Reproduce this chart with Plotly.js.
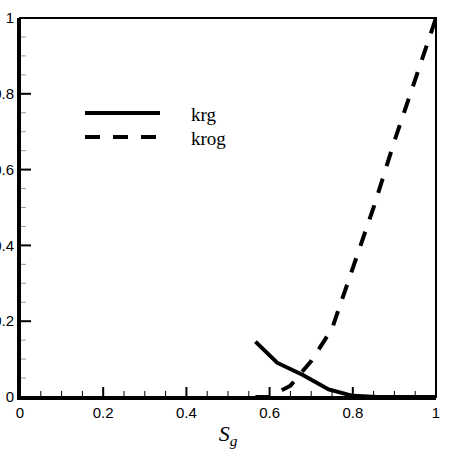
<!DOCTYPE html>
<html>
<head>
<meta charset="utf-8">
<script src="https://cdn.plot.ly/plotly-3.0.1.min.js"></script>
<style>html,body{margin:0;padding:0;background:#fff;}#chart{width:451px;height:451px;}</style>
</head>
<body>
<div id="chart"></div>
<script>
// krg (solid)
const krgSg = [0.566, 0.618, 0.68, 0.742, 0.8, 0.86, 1.0];
const krgVal = [0.146, 0.0905, 0.058, 0.02, 0.003, 0.0, 0.0];
// krog (dashed)
const krogSg = [0.566, 0.6, 0.65, 0.7, 0.75, 0.8, 0.85, 0.9, 0.95, 1.0];
const krogVal = [0.0, 0.0, 0.03, 0.095, 0.18, 0.34, 0.5, 0.675, 0.84, 1.0];
const seriesNames = ['krg', 'krog'];
const xTitle = '<i>S<sub>g</sub></i>';
// ticks
const majorTicks = [0, 0.2, 0.4, 0.6, 0.8, 1];
const minorTicks = [0.05, 0.1, 0.15, 0.25, 0.3, 0.35, 0.45, 0.5, 0.55, 0.65, 0.7, 0.75, 0.85, 0.9, 0.95];

const W = 451, H = 451;
const M = {l: 20, r: 15, t: 18, b: 54};
const pw = W - M.l - M.r, ph = H - M.t - M.b;
const px = v => (v - M.l) / pw;
const py = v => (H - M.b - v) / ph;

// tick marks drawn as line segments (lengths converted from pixels to axis units)
function xTickTrace(vals, lenPx, width, color) {
  const x = [], y = [];
  vals.forEach(v => { x.push(v, v, null); y.push(0, lenPx / ph, null); });
  return {x, y, type: 'scatter', mode: 'lines', showlegend: false, hoverinfo: 'skip',
          line: {color, width}, cliponaxis: false};
}
function yTickTrace(vals, lenPx, width, color) {
  const x = [], y = [];
  vals.forEach(v => { x.push(0, lenPx / pw, null); y.push(v, v, null); });
  return {x, y, type: 'scatter', mode: 'lines', showlegend: false, hoverinfo: 'skip',
          line: {color, width}, cliponaxis: false};
}

const traces = [
  {x: krgSg, y: krgVal, type: 'scatter', mode: 'lines', name: seriesNames[0],
   line: {color: '#000', width: 4}, showlegend: false},
  {x: krogSg, y: krogVal, type: 'scatter', mode: 'lines', name: seriesNames[1],
   line: {color: '#000', width: 4, dash: '15px,13px'}, showlegend: false},
  xTickTrace(majorTicks, 10, 2, '#000'),
  xTickTrace(minorTicks, 6, 1, '#000'),
  yTickTrace(majorTicks, 11, 2, '#000'),
  yTickTrace(minorTicks, 6, 1, '#999')
];

const tickFont = {family: 'Liberation Sans, Arial, sans-serif', size: 15, color: '#000'};

const shapes = [
  {type: 'rect', xref: 'paper', yref: 'paper', x0: 0, x1: 1, y0: 0, y1: 1,
   line: {color: '#000', width: 2}},
  {type: 'line', xref: 'paper', yref: 'paper', x0: px(85), x1: px(160), y0: py(113), y1: py(113),
   line: {color: '#000', width: 4}},
  {type: 'line', xref: 'paper', yref: 'paper', x0: px(85), x1: px(160), y0: py(137), y1: py(137),
   line: {color: '#000', width: 4, dash: '15px,13px'}}
];

const layout = {
  width: W, height: H,
  margin: M,
  paper_bgcolor: '#fff', plot_bgcolor: '#fff',
  showlegend: false,
  xaxis: {
    range: [0, 1], tickvals: majorTicks, ticktext: majorTicks.map(String),
    showgrid: false, zeroline: false,
    showline: true, linewidth: 3, linecolor: '#000', ticks: '',
    tickfont: tickFont, automargin: false,
    title: {text: xTitle, font: {family: 'Liberation Serif, Times New Roman, serif', size: 22, color: '#000'}, standoff: 6}
  },
  yaxis: {
    range: [0, 1], tickvals: majorTicks, ticktext: majorTicks.map(String),
    showgrid: false, zeroline: false,
    showline: true, linewidth: 3, linecolor: '#000', ticks: '',
    tickfont: tickFont, automargin: false
  },
  shapes: shapes,
  annotations: [
    {xref: 'paper', yref: 'paper', x: px(189), y: py(114), xanchor: 'left', yanchor: 'middle',
     text: seriesNames[0], showarrow: false,
     font: {family: 'Liberation Serif, Times New Roman, serif', size: 19, color: '#000'}},
    {xref: 'paper', yref: 'paper', x: px(189), y: py(138), xanchor: 'left', yanchor: 'middle',
     text: seriesNames[1], showarrow: false,
     font: {family: 'Liberation Serif, Times New Roman, serif', size: 19, color: '#000'}}
  ]
};

Plotly.newPlot('chart', traces, layout, {staticPlot: true, displayModeBar: false});
</script>
</body>
</html>
